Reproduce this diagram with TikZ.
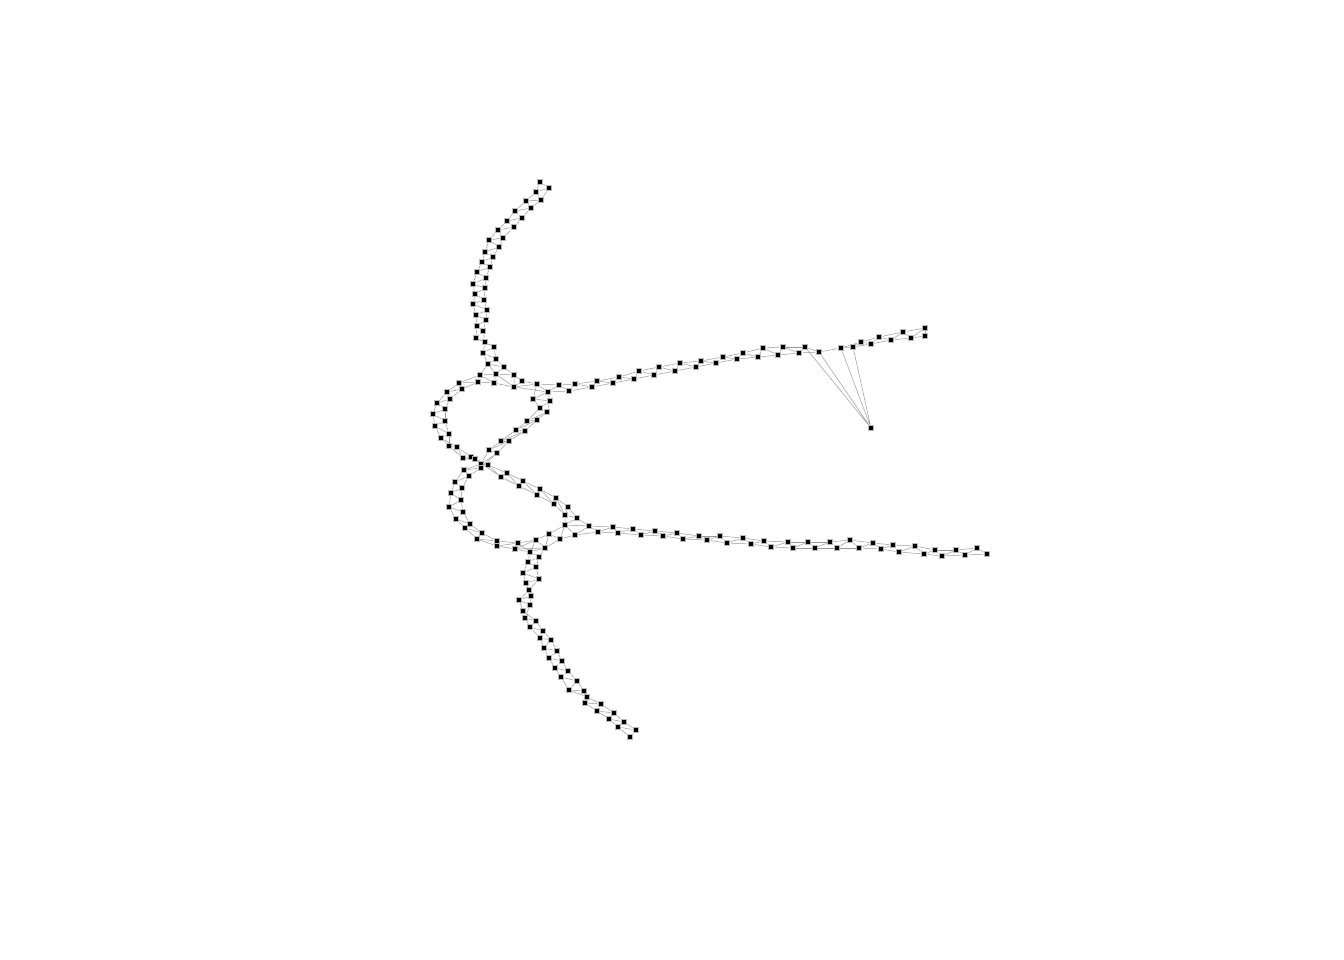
\documentclass[tikz,border=0pt]{standalone}
\pgfdeclarelayer{edges}
\pgfsetlayers{edges,main}
\tikzset{
  nd/.style={rectangle,draw=gray!55,fill=black,line width=1.2pt,minimum size=5.6pt,inner sep=0pt},
  ed/.style={draw=gray!80,line width=0.5pt}
}
\newcommand\mkstrip[2]{%
  \foreach \x/\y [count=\i] in {#2}{\node[nd] (#1\i) at (\x,\y) {}; \xdef\stripcount{\i}}%
  \pgfmathtruncatemacro\na{\stripcount-1}%
  \pgfmathtruncatemacro\nb{\stripcount-2}%
  \begin{pgfonlayer}{edges}
  \foreach \i [evaluate=\i as \j using int(\i+1)] in {1,...,\na}{\draw[ed] (#1\i) -- (#1\j);}
  \foreach \i [evaluate=\i as \k using int(\i+2)] in {1,...,\nb}{\draw[ed] (#1\i) -- (#1\k);}
  \end{pgfonlayer}%
}
\begin{document}
\begin{tikzpicture}[x=1pt,y=-1pt]
\useasboundingbox (0,0) rectangle (1344,960);
% top arm
\mkstrip{t}{540/182,549/188,536/192,541/200,526/201,531/208,515/211,522/218,507/221,514/227,498/230,503/238,489/240,499/247,485/252,493/257,482/262,490/267,477/272,486/278,473/284,485/288,475/294,484/300,473/304,487/310,476/315,486/320,477/326,483/331,476/338,485/342,494/347,483/353,496/359,488/364,504/367,496/374,514/375}
% upper right arm
\mkstrip{r}{522/381,514/387,537/384,548/392,559/385,569/391,575/384,592/387,597/381,613/383,619/377,634/379,639/371,654/375,659/367,675/371,680/363,696/367,701/361,716/363,723/357,737/359,743/353,758/357,763/348,778/355,783/347,799/353,805/347,819/352}
\mkstrip{q}{841/348,853/347,861/342,871/344,879/337,891/340,903/332,911/338,925/328,925/336}
\node[nd] (h) at (871,428) {};
% upper loop left + down-right branch
\mkstrip{u}{494/383,480/375,478/382,459/383,462/389,447/392,450/399,437/403,445/409,433/414,445/421,435/426,449/434,441/438,449/446,457/447,463/458,471/457,475/459,488/465,501/477,507/473,519/486,523/481,537/495,540/489,554/504,556/498,565/515,568/507,577/518}
% loop return + lower loop
\mkstrip{v}{533/399,550/401,540/408,547/412,527/421,537/420,516/430,525/431,501/441,509/441,489/450,497/453,481/464,481/468,464/470,469/476,455/482,462/488,451/493,461/500,449/507,463/512,456/519,470/524,465/528,482/533,477/539,497/541,497/546,518/543,515/549,536/540,545/548,549/534,560/539,565/525,575/535}
% bottom arm
\mkstrip{b}{530/552,539/557,528/562,536/567,523/573,539/579,526/583,529/590,531/596,519/600,530/605,523/611,525/618,536/621,530/627,543/631,540/638,551/640,544/648,557/651,549/658,562/661,555/668,568/671,561/677,577/681,569/690,584/691,587/697,585/703,601/704,597/711,614/713,609/719,624/722,618/727,636/730,630/737}
% lower right arm
\mkstrip{s}{589/526,598/532,613/527,618/533,633/529,641/535,655/531,663/536,677/533,683/539,699/536,707/540,720/536,727/543,743/538,751/544,764/541,771/547,788/542,793/548,808/542,815/548,830/542,837/548,850/540,859/548,873/543,881/549,893/545,899/552,915/546,924/554,935/550,942/556,956/550,965/555,977/548,987/554}
\begin{pgfonlayer}{edges}
\draw[ed] (t39)--(r1) (t39)--(r2) (t38)--(r2) (t38)--(u1) (t38)--(u2) (t36)--(u2) (u1)--(r2);
\draw[ed] (r30)--(q1);
\draw[ed] (h)--(r29) (h)--(r30) (h)--(q1) (h)--(q2);
\draw[ed] (r3)--(v1) (r4)--(v1) (r4)--(v2);
\draw[ed] (v31)--(b1) (v30)--(b1) (v33)--(b2) (v32)--(b1) (v33)--(b1);
\draw[ed] (u31)--(s1) (u31)--(v36) (u29)--(v36) (v36)--(s1) (v37)--(s1) (v37)--(s2);
\end{pgfonlayer}
\end{tikzpicture}
\end{document}
